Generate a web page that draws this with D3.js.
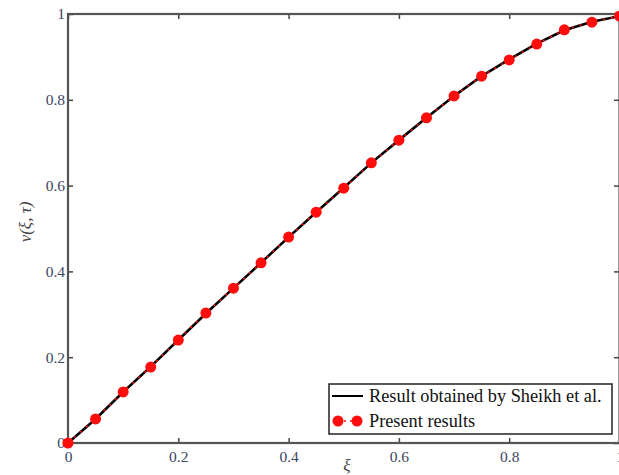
<!DOCTYPE html>
<html>
<head>
<meta charset="utf-8">
<script src="https://cdn.jsdelivr.net/npm/d3@7"></script>
<style>
  body { margin: 0; background: #fff; }
  svg { font-family: "Liberation Serif", "DejaVu Serif", serif; }
  .tick text { fill: #3b4662; font-size: 15.5px; font-family: "Liberation Serif", "DejaVu Serif", serif; }
</style>
</head>
<body>
<div id="chart"></div>
<script>
// values
var xi = [0, 0.05, 0.1, 0.15, 0.2, 0.25, 0.3, 0.35, 0.4, 0.45, 0.5,
          0.55, 0.6, 0.65, 0.7, 0.75, 0.8, 0.85, 0.9, 0.95, 1];
var sheikh = [0, 0.056, 0.119, 0.178, 0.240, 0.302, 0.361, 0.420, 0.480, 0.538, 0.595,
              0.653, 0.706, 0.758, 0.809, 0.855, 0.894, 0.931, 0.962, 0.982, 0.995];
var present = [0, 0.056, 0.119, 0.177, 0.240, 0.303, 0.361, 0.420, 0.480, 0.538, 0.594,
               0.653, 0.706, 0.758, 0.809, 0.855, 0.893, 0.930, 0.963, 0.981, 0.995];
var tickVals = [0, 0.2, 0.4, 0.6, 0.8, 1];
var legendLabels = ["Result obtained by Sheikh et al.", "Present results"];

var svgWidth = 619, svgHeight = 475;
var svg = d3.select('#chart').append('svg')
    .attr('width', svgWidth).attr('height', svgHeight);

var x = d3.scaleLinear().domain([0, 1]).range([68, 619.5]);
var y = d3.scaleLinear().domain([0, 1]).range([443, 14]);
var fmt = function(d) { return String(+d.toFixed(1)); };

// axes, ticks pointing inside the box
var xAxisBottom = svg.append('g').attr('transform', 'translate(0,443)')
    .call(d3.axisBottom(x).tickValues(tickVals).tickSize(-5).tickPadding(8).tickFormat(fmt));
var yAxisLeft = svg.append('g').attr('transform', 'translate(68,0)')
    .call(d3.axisLeft(y).tickValues(tickVals).tickSize(-5).tickPadding(3).tickFormat(fmt));
var xAxisTop = svg.append('g').attr('transform', 'translate(0,14)')
    .call(d3.axisTop(x).tickValues(tickVals).tickSize(-5).tickFormat(''));
var yAxisRight = svg.append('g').attr('transform', 'translate(619,0)')
    .call(d3.axisRight(y).tickValues(tickVals).tickSize(-5).tickFormat(''));

[xAxisBottom, yAxisLeft, xAxisTop, yAxisRight].forEach(function(g) {
    g.select('.domain').remove();
    g.selectAll('.tick line').attr('stroke', '#444').attr('stroke-width', 1.5);
});

// frame
svg.append('rect')
    .attr('x', x(0)).attr('y', y(1))
    .attr('width', x(1) - x(0)).attr('height', y(0) - y(1))
    .attr('fill', 'none').attr('stroke', '#555').attr('stroke-width', 2.2);

// curves
var line = d3.line().x(function(d) { return x(d[0]); }).y(function(d) { return y(d[1]); });

svg.append('path')
    .datum(d3.zip(xi, sheikh))
    .attr('d', line)
    .attr('fill', 'none').attr('stroke', '#000').attr('stroke-width', 2.6);

svg.append('path')
    .datum(d3.zip(xi, present))
    .attr('d', line)
    .attr('fill', 'none').attr('stroke', '#ff1010').attr('stroke-width', 1.6)
    .attr('stroke-dasharray', '2,6');

svg.selectAll('circle.pt')
    .data(d3.zip(xi, present))
    .enter().append('circle')
    .attr('class', 'pt')
    .attr('cx', function(d) { return x(d[0]); })
    .attr('cy', function(d) { return y(d[1]); })
    .attr('r', 5.5)
    .attr('fill', '#ff0d0d');

// axis titles
svg.append('text')
    .attr('transform', 'translate(31,222) rotate(-90)')
    .attr('text-anchor', 'middle')
    .attr('font-style', 'italic').attr('font-size', 17).attr('fill', '#444')
    .text('ν(ξ, τ)');

svg.append('text')
    .attr('x', 347).attr('y', 471)
    .attr('text-anchor', 'middle')
    .attr('font-style', 'italic').attr('font-size', 17).attr('fill', '#444')
    .text('ξ');

// legend
var legend = svg.append('g');
legend.append('rect')
    .attr('x', 329).attr('y', 384).attr('width', 283).attr('height', 50)
    .attr('fill', '#fff').attr('stroke', '#222').attr('stroke-width', 1.5);

legend.append('line')
    .attr('x1', 332).attr('x2', 363).attr('y1', 396).attr('y2', 396)
    .attr('stroke', '#000').attr('stroke-width', 2);
legend.append('line')
    .attr('x1', 338).attr('x2', 357).attr('y1', 421).attr('y2', 421)
    .attr('stroke', '#ff1010').attr('stroke-width', 1.6).attr('stroke-dasharray', '2,4');
legend.selectAll('circle.lg')
    .data([338, 357])
    .enter().append('circle')
    .attr('class', 'lg')
    .attr('cx', function(d) { return d; }).attr('cy', 421).attr('r', 5.5)
    .attr('fill', '#ff0d0d');

legend.selectAll('text')
    .data(legendLabels)
    .enter().append('text')
    .attr('x', 369)
    .attr('y', function(d, i) { return 402 + i * 25; })
    .attr('font-size', 18.3).attr('fill', '#111')
    .text(function(d) { return d; });
</script>
</body>
</html>
